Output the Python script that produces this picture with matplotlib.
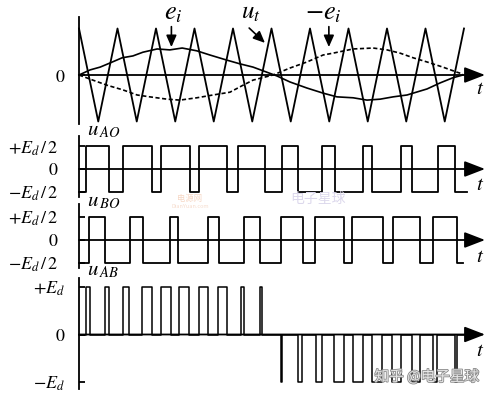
import matplotlib
matplotlib.use('Agg')
import matplotlib.pyplot as plt
import matplotlib.patheffects as pe

plt.rcParams['mathtext.fontset'] = 'stix'
plt.rcParams['font.family'] = ['Liberation Serif', 'DejaVu Serif']

# --- data (time in carrier periods, levels normalised) ---
carrier_t = [0, 0.5, 1, 1.5, 2, 2.5, 3, 3.5, 4, 4.5, 5, 5.5, 6, 6.5, 7, 7.5, 8, 8.5, 9, 9.5, 10]
carrier_v = [1, -1, 1, -1, 1, -1, 1, -1, 1, -1, 1, -1, 1, -1, 1, -1, 1, -1, 1, -1, 1]

ei_t = [0, 0.29, 0.55, 0.81, 1.12, 1.40, 1.66, 2.03, 2.36, 2.68, 3.06, 3.40, 3.84, 4.18,
        4.52, 4.88, 5.14, 5.48, 5.92, 6.34, 6.70, 7.12, 7.48, 7.82, 8.16, 8.52, 9.04,
        9.38, 9.71, 9.97]
ei_v = [0, 0.11, 0.17, 0.26, 0.37, 0.41, 0.49, 0.56, 0.54, 0.58, 0.52, 0.43, 0.32, 0.24,
        0.17, 0.06, -0.02, -0.15, -0.28, -0.39, -0.47, -0.49, -0.54, -0.52, -0.47, -0.43,
        -0.30, -0.17, -0.06, 0]

nei_t = [0, 0.36, 0.73, 1.14, 1.51, 1.84, 2.29, 2.62, 3.06, 3.48, 3.92, 4.26, 4.52, 5.04,
         5.48, 5.92, 6.34, 6.60, 7.12, 7.64, 8.00, 8.34, 8.68, 9.04, 9.45, 9.82, 9.97]
nei_v = [0, -0.11, -0.22, -0.32, -0.43, -0.47, -0.52, -0.54, -0.49, -0.43, -0.37, -0.22,
         -0.11, 0, 0.15, 0.28, 0.43, 0.47, 0.56, 0.58, 0.54, 0.47, 0.37, 0.28, 0.17, 0.06, 0.02]

uao_edges = [0.18, 0.78, 1.14, 1.90, 2.13, 2.88, 3.12, 3.84, 4.13, 4.83,
             5.27, 5.69, 6.31, 6.65, 7.38, 7.61, 8.36, 8.65, 9.32, 9.77]
uao_start, uao_end = -1, 10.08

ubo_edges = [0.26, 0.68, 1.32, 1.66, 2.36, 2.57, 3.35, 3.64, 4.29, 4.70,
             5.25, 5.82, 6.13, 6.88, 7.09, 7.90, 8.16, 8.86, 9.19, 9.82]
ubo_start, ubo_end = -1, 9.97

uab_pos = [(0.18, 0.29), (0.68, 0.78), (1.14, 1.30), (1.64, 1.90), (2.13, 2.39),
           (2.60, 2.86), (3.12, 3.35), (3.61, 3.84), (4.21, 4.29), (4.70, 4.75)]
uab_neg = [(5.25, 5.28), (5.69, 5.79), (6.16, 6.31), (6.62, 6.88), (7.12, 7.38),
           (7.61, 7.87), (8.13, 8.36), (8.65, 8.86), (9.19, 9.30), (9.77, 9.82)]

half_labels = [r'$-E_d\,/\,2$', r'$0$', r'$+E_d\,/\,2$']
full_labels = [r'$-E_d$', r'$0$', r'$+E_d$']

# --- layout helpers (pixels) ---
W, H = 493, 398
X0, XR = 79, 490
PX_T = 38.5
T_ARROW = (485 - X0) / PX_T
LW = 1.3

fig = plt.figure(figsize=(W / 100, H / 100), dpi=100)


def panel(top, bot, zero, unit, ticks, labels, pad, t_px):
    ax = fig.add_axes([X0 / W, 1 - bot / H, (XR - X0) / W, (bot - top) / H])
    ax.set_xlim(0, (XR - X0) / PX_T)
    ax.set_ylim(-(bot - zero) / unit, (zero - top) / unit)
    ax.patch.set_visible(False)
    for s in ['top', 'right', 'bottom']:
        ax.spines[s].set_visible(False)
    ax.spines['left'].set_linewidth(LW)
    ax.set_xticks([])
    ax.set_yticks(ticks)
    ax.set_yticklabels(labels)
    ax.tick_params(axis='y', direction='in', length=4, width=LW, labelsize=13, pad=pad)
    ax.annotate('', xy=(T_ARROW, 0), xytext=(0, 0),
                arrowprops=dict(arrowstyle='-|>,head_length=0.7,head_width=0.27',
                                mutation_scale=18, lw=LW, color='k',
                                shrinkA=0, shrinkB=0))
    ax.text((480 - X0) / PX_T, (zero - t_px) / unit, r'$t$', fontsize=15,
            ha='center', va='center')
    return ax


def square(start, edges, end):
    xs, ys = [0], [start]
    lvl = start
    for e in edges:
        lvl = -lvl
        xs.append(e)
        ys.append(lvl)
    xs.append(end)
    ys.append(lvl)
    return xs, ys


def pulses(pos, neg, end):
    xs, ys = [0], [0]
    for (a, b), v in [(p, 1) for p in pos] + [(n, -1) for n in neg]:
        xs += [a, b]
        ys += [v, 0]
    xs.append(end)
    ys.append(0)
    return xs, ys


# top panel: carrier and references
ax1 = panel(17, 124, 75, 46.5, [0], ['$0$'], 10, 90)
ax1.plot(carrier_t, carrier_v, color='k', lw=LW, clip_on=False)
ax1.plot(ei_t, ei_v, color='k', lw=1.2, clip_on=False)
ax1.plot(nei_t, nei_v, color='k', lw=1.2, ls=(0, (2.5, 1.5)), clip_on=False)

arr = dict(arrowstyle='-|>,head_length=0.5,head_width=0.22', mutation_scale=14,
           lw=1.2, color='k', shrinkA=0, shrinkB=0)
ax1.annotate('', xy=(2.40, 0.60), xytext=(2.40, 1.04), arrowprops=arr, annotation_clip=False)
ax1.annotate('', xy=(4.83, 0.69), xytext=(4.42, 1.01), arrowprops=arr, annotation_clip=False)
ax1.annotate('', xy=(6.49, 0.60), xytext=(6.49, 1.04), arrowprops=arr, annotation_clip=False)
ax1.text(2.45, 1.32, r'$e_i$', fontsize=19, ha='center', va='center')
ax1.text(4.47, 1.34, r'$u_t$', fontsize=18, ha='center', va='center')
ax1.text(6.35, 1.32, r'$-e_i$', fontsize=19, ha='center', va='center')

# u_AO
ax2 = panel(136, 197, 169, 22.5, [-1, 0, 1], half_labels, 15, 185)
x, y = square(uao_start, uao_edges, uao_end)
ax2.step(x, y, where='post', color='k', lw=LW, clip_on=False)

# u_BO
ax3 = panel(204, 268, 240, 23, [-1, 0, 1], half_labels, 15, 257)
x, y = square(ubo_start, ubo_edges, ubo_end)
ax3.step(x, y, where='post', color='k', lw=LW, clip_on=False)

# u_AB
ax4 = panel(278, 389, 334.5, 47.5, [-1, 0, 1], full_labels, 10, 352)
x, y = pulses(uab_pos, uab_neg, uao_end)
ax4.step(x, y, where='post', color='k', lw=1.1, clip_on=False)

fig.text(87 / W, 1 - 131 / H, r'$u_{\,AO}$', fontsize=15, va='center')
fig.text(87 / W, 1 - 202 / H, r'$u_{\,BO}$', fontsize=15, va='center')
fig.text(87 / W, 1 - 271 / H, r'$u_{\,AB}$', fontsize=15, va='center')

# faint watermarks
cjk = ['Noto Sans CJK SC', 'DejaVu Sans']
fig.text(190 / W, 1 - 199 / H, '电源网', fontsize=6, color='#f6d7c4', ha='center',
         va='center', family=cjk)
fig.text(190 / W, 1 - 207 / H, 'DianYuan.com', fontsize=4, color='#f6dccd', ha='center',
         va='center', family=cjk)
fig.text(318 / W, 1 - 199 / H, '电子星球', fontsize=10, color='#dcd8ec', ha='center',
         va='center', family=cjk)
fig.text(427 / W, 1 - 377 / H, '知乎 @电子星球', fontsize=10.5, color='#e6e6e6',
         ha='center', va='center', family=cjk,
         path_effects=[pe.withStroke(linewidth=1.2, foreground='#8c8c8c')])

fig.savefig('out.png', dpi=100)
